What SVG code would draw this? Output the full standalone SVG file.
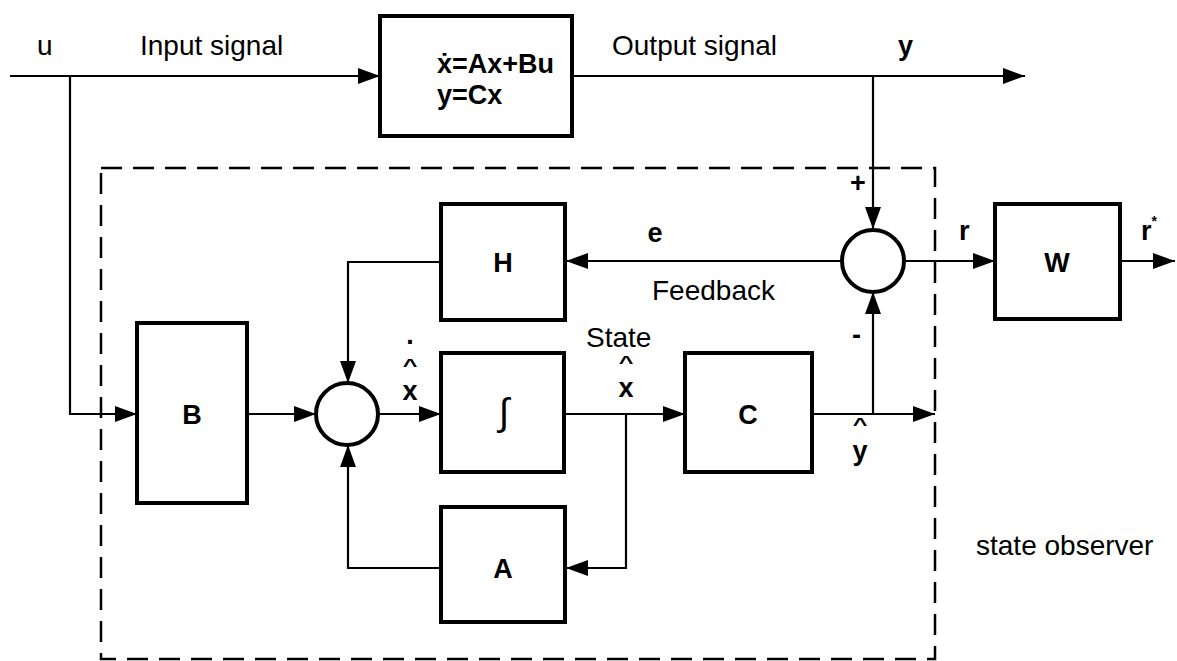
<svg xmlns="http://www.w3.org/2000/svg" width="1177" height="661" viewBox="0 0 1177 661">
<style>
.box{fill:#fff;stroke:#000;stroke-width:4}
.sum{fill:#fff;stroke:#000;stroke-width:4}
.ln{fill:none;stroke:#000;stroke-width:2.2}
.dash{fill:none;stroke:#000;stroke-width:2.5;stroke-dasharray:21 11}
.t{font-family:"Liberation Sans",Arial,sans-serif;font-size:28px;fill:#000}
.b{font-family:"Liberation Sans",Arial,sans-serif;font-size:27px;font-weight:bold;fill:#000}
.h{font-family:"Liberation Sans",Arial,sans-serif;font-size:18px;font-weight:bold;fill:#000;text-anchor:middle}
.c{text-anchor:middle}
</style>
<defs>
<marker id="ah" markerUnits="userSpaceOnUse" markerWidth="22" markerHeight="16" refX="22" refY="8" orient="auto">
<path d="M0,0 L22,8 L0,16 z" fill="#000"/>
</marker>
</defs>
<rect width="1177" height="661" fill="#fff"/>
<rect class="dash" x="101" y="168" width="834" height="491"/>
<g id="connectors">
<path class="ln" d="M10,76 H380" marker-end="url(#ah)"/>
<path class="ln" d="M70,76 V414 H137" marker-end="url(#ah)"/>
<path class="ln" d="M572,76 H1025" marker-end="url(#ah)"/>
<path class="ln" d="M873,76 V229" marker-end="url(#ah)"/>
<path class="ln" d="M842,261 H566" marker-end="url(#ah)"/>
<path class="ln" d="M904,261 H995" marker-end="url(#ah)"/>
<path class="ln" d="M1120,261 H1175" marker-end="url(#ah)"/>
<path class="ln" d="M440,262 H348 V383" marker-end="url(#ah)"/>
<path class="ln" d="M247,414 H316" marker-end="url(#ah)"/>
<path class="ln" d="M379,414 H441" marker-end="url(#ah)"/>
<path class="ln" d="M564,414 H685" marker-end="url(#ah)"/>
<path class="ln" d="M626,414 V568 H566" marker-end="url(#ah)"/>
<path class="ln" d="M441,568 H348 V445" marker-end="url(#ah)"/>
<path class="ln" d="M812,414 H935" marker-end="url(#ah)"/>
<path class="ln" d="M873,414 V292" marker-end="url(#ah)"/>
</g>
<g id="plant">
<rect class="box" x="380" y="16" width="192" height="120"/>
<text class="b" x="437" y="73">ẋ=Ax+Bu</text>
<text class="b" x="437" y="104">y=Cx</text>
</g>
<g id="H"><rect class="box" x="441" y="204" width="124" height="116"/><text class="b c" x="503" y="272">H</text></g>
<g id="W"><rect class="box" x="995" y="204" width="125" height="115"/><text class="b c" x="1057" y="272">W</text></g>
<g id="B"><rect class="box" x="137" y="323" width="110" height="180"/><text class="b c" x="192" y="424">B</text></g>
<g id="I"><rect class="box" x="441" y="353" width="123" height="119"/><text class="t c" x="504" y="425" style="font-size:38px">∫</text></g>
<g id="C"><rect class="box" x="685" y="353" width="127" height="119"/><text class="b c" x="748" y="424">C</text></g>
<g id="A"><rect class="box" x="441" y="507" width="124" height="115"/><text class="b c" x="503" y="578">A</text></g>
<g id="sum1"><circle class="sum" cx="347" cy="414" r="31"/></g>
<g id="sum2"><circle class="sum" cx="873" cy="261" r="31"/></g>
<g id="labels">
<text class="t" x="37" y="55">u</text>
<text class="t" x="140" y="55">Input signal</text>
<text class="t" x="612" y="55">Output signal</text>
<text class="b" x="898" y="55">y</text>
<text class="b" x="850" y="192">+</text>
<text class="b" x="852" y="344">-</text>
<text class="b" x="959" y="240">r</text>
<text class="b" x="1141" y="240">r<tspan dy="-14" style="font-size:14px">*</tspan></text>
<text class="b c" x="655" y="242">e</text>
<text class="t" x="652" y="300">Feedback</text>
<text class="t" x="586" y="347">State</text>
<text class="h" transform="translate(626,369) scale(1.4,1)">^</text>
<text class="b c" x="626" y="397">x</text>
<text class="b c" x="410" y="344">.</text>
<text class="h" transform="translate(410,372) scale(1.4,1)">^</text>
<text class="b c" x="410" y="400">x</text>
<text class="h" transform="translate(860,431) scale(1.4,1)">^</text>
<text class="b c" x="860" y="460">y</text>
<text class="t" x="976" y="555">state observer</text>
</g>
</svg>
